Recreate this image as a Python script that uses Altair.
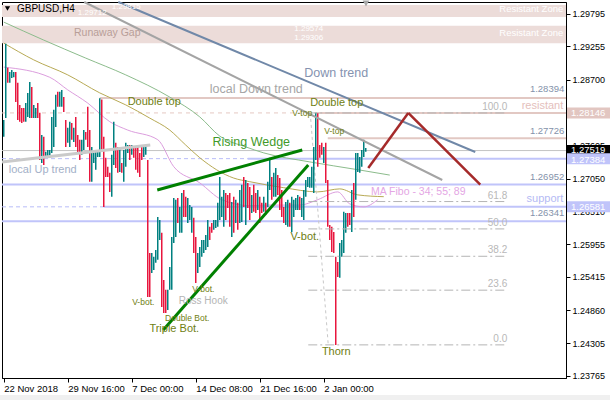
import altair as alt
import pandas as pd

# ---------------------------------------------------------------------------
# GBPUSD H4 bars (index 0 = 22 Nov 2018 00:00, one step = one 4-hour bar)
# ---------------------------------------------------------------------------
HIGH = [
    1.2803, 1.2930, 1.2890, 1.2883, 1.2886, 1.2883, 1.2883, 1.2865, 1.2828, 1.2823,
    1.2823, 1.2831, 1.2848, 1.2866, 1.2858, 1.2828, 1.2823, 1.2831, 1.2815, 1.2778,
    1.2775, 1.2750, 1.2753, 1.2753, 1.2808, 1.2820, 1.2845, 1.2850, 1.2850, 1.2853,
    1.2841, 1.2803, 1.2790, 1.2800, 1.2798, 1.2790, 1.2808, 1.2778, 1.2770, 1.2770,
    1.2786, 1.2783, 1.2825, 1.2786, 1.2758, 1.2748, 1.2753, 1.2750, 1.2839, 1.2837,
    1.2775, 1.2740, 1.2725, 1.2715, 1.2745, 1.2800, 1.2765, 1.2758, 1.2758, 1.2731,
    1.2753, 1.2765, 1.2761, 1.2761, 1.2761, 1.2758, 1.2758, 1.2758, 1.2748, 1.2761,
    1.2761, 1.2761, 1.2736, 1.2581, 1.2581, 1.2575, 1.2586, 1.2641, 1.2636, 1.2615,
    1.2536, 1.2520, 1.2520, 1.2558, 1.2608, 1.2673, 1.2670, 1.2673, 1.2658, 1.2681,
    1.2686, 1.2675, 1.2673, 1.2661, 1.2658, 1.2640, 1.2608, 1.2581, 1.2591, 1.2603,
    1.2603, 1.2611, 1.2636, 1.2625, 1.2631, 1.2636, 1.2636, 1.2665, 1.2708, 1.2675,
    1.2686, 1.2681, 1.2678, 1.2681, 1.2666, 1.2675, 1.2670, 1.2665, 1.2686, 1.2695,
    1.2708, 1.2703, 1.2698, 1.2691, 1.2678, 1.2695, 1.2681, 1.2686, 1.2675, 1.2665,
    1.2675, 1.2665, 1.2700, 1.2740, 1.2708, 1.2715, 1.2723, 1.2711, 1.2706, 1.2686,
    1.2658, 1.2666, 1.2670, 1.2665, 1.2675, 1.2670, 1.2673, 1.2678, 1.2675, 1.2673,
    1.2686, 1.2703, 1.2708, 1.2708, 1.2725, 1.2758, 1.2815, 1.2814, 1.2761, 1.2765,
    1.2758, 1.2765, 1.2703, 1.2628, 1.2625, 1.2616, 1.2575, 1.2566, 1.2598, 1.2603,
    1.2650, 1.2648, 1.2648, 1.2648, 1.2686, 1.2698, 1.2748, 1.2748, 1.2741, 1.2753,
    1.2770, 1.2756,
]
LOW = [
    1.2775, 1.2806, 1.2865, 1.2865, 1.2873, 1.2874, 1.2833, 1.2803, 1.2800, 1.2798,
    1.2800, 1.2800, 1.2808, 1.2806, 1.2806, 1.2806, 1.2806, 1.2806, 1.2736, 1.2731,
    1.2728, 1.2740, 1.2740, 1.2741, 1.2748, 1.2758, 1.2791, 1.2825, 1.2825, 1.2825,
    1.2816, 1.2758, 1.2765, 1.2758, 1.2770, 1.2766, 1.2758, 1.2748, 1.2736, 1.2745,
    1.2753, 1.2770, 1.2758, 1.2700, 1.2700, 1.2731, 1.2720, 1.2741, 1.2741, 1.2753,
    1.2658, 1.2708, 1.2708, 1.2683, 1.2675, 1.2728, 1.2723, 1.2715, 1.2716, 1.2715,
    1.2700, 1.2725, 1.2748, 1.2736, 1.2745, 1.2740, 1.2720, 1.2715, 1.2708, 1.2736,
    1.2741, 1.2745, 1.2508, 1.2508, 1.2548, 1.2553, 1.2565, 1.2570, 1.2603, 1.2491,
    1.2481, 1.2481, 1.2486, 1.2520, 1.2520, 1.2598, 1.2608, 1.2631, 1.2615, 1.2615,
    1.2641, 1.2641, 1.2631, 1.2636, 1.2615, 1.2581, 1.2531, 1.2548, 1.2558, 1.2575,
    1.2581, 1.2586, 1.2591, 1.2603, 1.2615, 1.2620, 1.2623, 1.2625, 1.2636, 1.2641,
    1.2625, 1.2636, 1.2656, 1.2625, 1.2608, 1.2615, 1.2631, 1.2620, 1.2631, 1.2633,
    1.2658, 1.2628, 1.2656, 1.2636, 1.2648, 1.2650, 1.2648, 1.2653, 1.2631, 1.2648,
    1.2650, 1.2645, 1.2658, 1.2686, 1.2670, 1.2675, 1.2675, 1.2678, 1.2653, 1.2641,
    1.2631, 1.2628, 1.2625, 1.2625, 1.2616, 1.2641, 1.2653, 1.2653, 1.2653, 1.2641,
    1.2636, 1.2675, 1.2691, 1.2690, 1.2690, 1.2681, 1.2736, 1.2725, 1.2740, 1.2745,
    1.2731, 1.2698, 1.2625, 1.2603, 1.2583, 1.2581, 1.2428, 1.2541, 1.2540, 1.2575,
    1.2581, 1.2615, 1.2625, 1.2628, 1.2616, 1.2641, 1.2670, 1.2716, 1.2715, 1.2725,
    1.2741, 1.2750,
]
# 1 = bullish bar, 0 = bearish bar
UP = [
    1, 1, 0, 1, 1, 1, 0, 0, 0, 0,
    0, 1, 1, 1, 0, 1, 1, 0, 0, 1,
    0, 1, 1, 1, 1, 1, 1, 0, 1, 1,
    0, 0, 1, 1, 0, 1, 0, 0, 0, 1,
    1, 0, 0, 0, 1, 1, 1, 1, 1, 0,
    0, 0, 0, 0, 1, 1, 0, 0, 1, 0,
    1, 1, 1, 0, 1, 0, 0, 0, 0, 0,
    1, 1, 0, 0, 1, 1, 1, 1, 1, 0,
    0, 0, 1, 1, 1, 1, 1, 0, 1, 1,
    0, 0, 1, 1, 1, 0, 0, 1, 1, 1,
    1, 1, 1, 0, 0, 1, 1, 1, 1, 1,
    1, 0, 0, 0, 1, 0, 1, 0, 1, 1,
    0, 1, 0, 0, 1, 0, 0, 1, 0, 0,
    1, 0, 1, 1, 0, 1, 1, 0, 0, 0,
    0, 1, 1, 0, 1, 1, 1, 1, 0, 1,
    1, 1, 1, 1, 1, 1, 1, 0, 0, 0,
    1, 0, 0, 0, 0, 0, 0, 0, 1, 1,
    1, 1, 0, 0, 1, 0, 1, 1, 1, 1,
    1, 1,
]

# Moving averages "MA Fibo 34; 55; 89" sampled at bar indices
MA89_I = [0, 20, 41, 61, 83, 98, 108, 121, 130, 153, 177, 193]
MA89_P = [1.2966, 1.2936, 1.2906, 1.2878, 1.2841, 1.2808, 1.2776, 1.2758, 1.2748, 1.2733, 1.2720, 1.2711]
MA55_I = [0, 15, 32, 48, 61, 73, 83, 91, 98, 115, 123, 140, 157, 168, 177, 190]
MA55_P = [1.2931, 1.2903, 1.2878, 1.2848, 1.2828, 1.2806, 1.2786, 1.2761, 1.2740, 1.2706,
          1.2700, 1.2690, 1.2683, 1.2688, 1.2678, 1.2675]
MA34_I = [0, 23, 32, 42, 53, 62, 77, 85, 98, 109, 123, 132, 148, 157, 167, 173, 180, 187]
MA34_P = [1.2891, 1.2874, 1.2853, 1.2831, 1.2800, 1.2786, 1.2770, 1.2725, 1.2698, 1.2670,
          1.2660, 1.2661, 1.2661, 1.2670, 1.2683, 1.2663, 1.2658, 1.2670]

# Axis ticks
X_TICKS = [0, 32, 64, 96, 128, 160]
X_LABELS = ["22 Nov 2018", "29 Nov 16:00", "7 Dec 00:00", "14 Dec 08:00", "21 Dec 16:00", "2 Jan 00:00"]
Y_TICKS = [1.29795, 1.29255, 1.28700, 1.27605, 1.27050, 1.26510,
           1.25955, 1.25415, 1.24860, 1.24305, 1.23765]

# Fibonacci retracement (Thorn low -> V-top high)
FIB_LEVELS = [1.24280, 1.25192, 1.25757, 1.26213, 1.26669, 1.28146]
FIB_NAMES = ["0.0", "23.6", "38.2", "50.0", "61.8", "100.0"]

LAST_PRICE = 1.27519
I_MIN, I_MAX = -0.875, 281.125

FONT = "Liberation Sans"
XS = alt.Scale(domain=[I_MIN, I_MAX], nice=False, zero=False, padding=0)
YS = alt.Scale(domain=[1.23728, 1.29995], nice=False, zero=False, padding=0)

x_expr = " : ".join(f"datum.value == {t} ? '{l}'" for t, l in zip(X_TICKS, X_LABELS)) + " : ''"
AX_X = alt.Axis(values=X_TICKS, labelExpr=x_expr, title=None, grid=False, orient="bottom",
                tickSize=4, labelPadding=1, labelAlign="left", labelFlush=False,
                labelFontSize=9.5, labelColor="black", domainColor="black", tickColor="black")
AX_Y = alt.Axis(values=Y_TICKS, format=".5f", title=None, grid=False, orient="right",
                tickSize=4, labelPadding=2, labelFontSize=9, labelColor="black",
                labelFlush=False, labelOverlap=False, domainColor="black", tickColor="black")


def xq(f):
    return alt.X(f"{f}:Q", scale=XS, axis=AX_X)


def yq(f):
    return alt.Y(f"{f}:Q", scale=YS, axis=AX_Y)


def segments(rows, **mark):
    df = pd.DataFrame(rows, columns=["i", "p", "i2", "p2"])
    return alt.Chart(df).mark_rule(**mark).encode(
        x=xq("i"), y=yq("p"), x2="i2:Q", y2="p2:Q")


def labels(rows, **mark):
    df = pd.DataFrame(rows, columns=["i", "p", "t"])
    return alt.Chart(df).mark_text(font=FONT, **mark).encode(
        x=xq("i"), y=yq("p"), text="t:N")


def ma_line(idx, vals, color):
    df = pd.DataFrame({"i": idx, "p": vals})
    return alt.Chart(df).mark_line(color=color, strokeWidth=1, interpolate="monotone").encode(
        x=xq("i"), y=yq("p"))


# --- resistance zones -------------------------------------------------------
zones = alt.Chart(pd.DataFrame({
    "i": [I_MIN, I_MIN], "i2": [I_MAX, I_MAX],
    "p": [1.29945, 1.29600], "p2": [1.29745, 1.29306],
})).mark_rect(color="#ecdcd9").encode(x=xq("i"), x2="i2:Q", y=yq("p"), y2="p2:Q")

# --- horizontal levels ------------------------------------------------------
bid_line = segments([[I_MIN, LAST_PRICE, I_MAX, LAST_PRICE]], color="#c4c4c4", strokeWidth=1)
pink_solid = segments([
    [48, 1.28394, I_MAX, 1.28394],
    [156, 1.28146, I_MAX, 1.28146],
    [162, 1.27726, I_MAX, 1.27726],
], color="#e2c8c3", strokeWidth=2)
pink_dash = segments([[I_MIN, 1.28146, 156, 1.28146]],
                     color="#e6c8c2", strokeWidth=1, strokeDash=[4, 4])
lav_solid = segments([
    [122, 1.27384, I_MAX, 1.27384],
    [I_MIN, 1.26952, I_MAX, 1.26952],
    [50, 1.26581, I_MAX, 1.26581],
    [I_MIN, 1.26341, I_MAX, 1.26341],
], color="#c0c4fa", strokeWidth=2)
lav_dash = segments([
    [I_MIN, 1.27384, 122, 1.27384],
    [I_MIN, 1.26581, 50, 1.26581],
], color="#b8bcf8", strokeWidth=1, strokeDash=[4, 3])

# --- Fibonacci ---------------------------------------------------------------
fib_lines = segments([[152.25, v, 251.75, v] for v in FIB_LEVELS],
                     color="#b4b4b4", strokeWidth=1, strokeDash=[9, 3, 2, 3])
fib_diag = segments([[153.25, 1.28146, 162.25, 1.24280]],
                    color="#c8c8c8", strokeWidth=1, strokeDash=[3, 3])
fib_text = labels([[251.75, v, n] for v, n in zip(FIB_LEVELS, FIB_NAMES)],
                  align="right", baseline="bottom", dy=-1, fontSize=10, color="#b8b8b8")

# --- moving averages ---------------------------------------------------------
mas = [
    ma_line(MA89_I, MA89_P, "#8cbc8c"),
    ma_line(MA55_I, MA55_P, "#b8aa55"),
    ma_line(MA34_I, MA34_P, "#dc9ede"),
]

# --- price bars (thin high-low bars, teal = bullish, crimson = bearish) --------
bars_df = pd.DataFrame({
    "i": list(range(len(HIGH))),
    "high": HIGH,
    "low": LOW,
    "up": UP,
})
bars_up = alt.Chart(bars_df).transform_filter("datum.up == 1").mark_bar(
    width=1.5, fill="#008080", opacity=1).encode(
    x=xq("i"), y=yq("high"), y2="low:Q")
bars_down = alt.Chart(bars_df).transform_filter("datum.up == 0").mark_bar(
    width=1.5, fill="#e8163e", opacity=1).encode(
    x=xq("i"), y=yq("high"), y2="low:Q")

# --- trend lines -------------------------------------------------------------
down_trend = segments([[57.25, 1.29995, 235.75, 1.27495]], color="#7088a8", strokeWidth=2)
local_down = segments([[40.25, 1.29995, 219.25, 1.27028]], color="#a4a4a4", strokeWidth=2)
local_up = segments([[I_MIN, 1.27328, 73.25, 1.27612]], color="#cacaca", strokeWidth=3)
wedge = segments([
    [76.75, 1.26862, 149.25, 1.27528],
    [79.75, 1.24528, 152.25, 1.27278],
], color="#008000", strokeWidth=3)
projection = segments([
    [182.25, 1.27230, 202.25, 1.28146],
    [202.25, 1.28146, 238.25, 1.26952],
], color="#a52a2a", strokeWidth=2.5)

# --- annotations -------------------------------------------------------------
OLIVE = "#6f8012"
pattern_big = labels([
    [75.25, 1.28328, "Double top"],
    [166.5, 1.28312, "Double top"],
    [85.25, 1.24545, "Triple Bot."],
    [166.25, 1.24162, "Thorn"],
    [150.5, 1.26078, "V-bot."],
], fontSize=11, color=OLIVE)
pattern_small = labels([
    [149.25, 1.28137, "V-top"],
    [165.25, 1.27845, "V-top"],
    [69.75, 1.24995, "V-bot."],
    [99.75, 1.25212, "V-bot."],
    [91.75, 1.24728, "Double Bot."],
], fontSize=8.5, color=OLIVE)
ross = labels([[99.75, 1.25012, "Ross Hook"]], fontSize=10, color="#b4b4b4")
wedge_text = labels([[123.75, 1.27662, "Rising Wedge"]], fontSize=12.5, color="#3f9a2a")
trend_text = alt.layer(
    labels([[166.25, 1.28812, "Down trend"]], fontSize=12.5, color="#8593b0"),
    labels([[126.25, 1.28545, "local Down trend"]], fontSize=12.5, color="#a6a6a6"),
    labels([[19.5, 1.27195, "local  Up trend"]], fontSize=11, color="#a3b0c8"),
)
ma_text = labels([[207.25, 1.26828, "MA Fibo - 34; 55; 89"]], fontSize=10.5, color="#e4a6e4")
side_text = alt.layer(
    labels([[279.75, 1.26712, "support"]], fontSize=11, align="right", color="#b4baf4"),
    labels([[279.75, 1.28262, "resistant"]], fontSize=11, align="right", color="#e4c0bc"),
)
zone_text = alt.layer(
    labels([[51.75, 1.29478, "Runaway Gap"]], fontSize=10.5, color="#b89e98"),
    labels([[279.75, 1.29878, "Resistant Zone"], [279.75, 1.29478, "Resistant Zone"]],
           fontSize=9.5, align="right", color="white"),
    labels([[152.5, 1.29553, "1.29574"], [152.5, 1.29403, "1.29306"],
            [44.25, 1.29812, "1.29712"], [61.25, 1.29912, "1.29815"]],
           fontSize=8, color="white"),
)
level_text = labels([
    [280.25, 1.28545, "1.28394"],
    [280.25, 1.27845, "1.27726"],
    [280.25, 1.27078, "1.26952"],
    [280.25, 1.26478, "1.26341"],
], fontSize=9.5, align="right", color="#8492aa")

# --- price boxes on the right scale (drawn over the tick labels) ---------------
box_df = pd.DataFrame({
    "p": [1.28146, LAST_PRICE, 1.27384, 1.26581],
    "t": ["1.28146", "1.27519", "1.27384", "1.26581"],
    "c": ["#e2c6c1", "#000000", "#c0c4fa", "#c0c4fa"],
    "dy": [0, -1, 1, 0],
})
box_layers = []
for k in range(len(box_df)):
    row = box_df.iloc[[k]]
    box_layers.append(alt.Chart(row).mark_rule(strokeWidth=11, strokeCap="butt").encode(
        x=alt.value(565), x2=alt.value(608), y=yq("p"), stroke=alt.value(box_df["c"][k])))
    box_layers.append(alt.Chart(row).mark_text(
        font=FONT, fontSize=9.5, color="white", align="left", dy=int(box_df["dy"][k])).encode(
        x=alt.value(569), y=yq("p"), text="t:N"))

# --- window furniture -----------------------------------------------------------
title_text = alt.Chart(pd.DataFrame({"t": ["GBPUSD,H4"]})).mark_text(
    font=FONT, fontSize=10, color="black", align="left", baseline="middle").encode(
    x=alt.value(15), y=alt.value(7), text="t:N")
title_arrow = alt.Chart(pd.DataFrame({"t": [0]})).mark_point(
    shape="triangle-down", filled=True, size=28, color="black", opacity=1).encode(
    x=alt.value(5.5), y=alt.value(6.5))
shift_marker = alt.Chart(pd.DataFrame({"t": [0]})).mark_point(
    shape="triangle-down", filled=True, size=45, color="#a8a8a8", opacity=1).encode(
    x=alt.value(364), y=alt.value(1.5))
bottom_strip = alt.Chart(pd.DataFrame({"t": [0]})).mark_rect(color="#f0f0f0").encode(
    x=alt.value(-2), x2=alt.value(608), y=alt.value(393), y2=alt.value(398))

chart = alt.layer(
    zones, bid_line, pink_solid, pink_dash, lav_solid, lav_dash,
    *mas,
    fib_diag,
    bars_up, bars_down,
    fib_lines, fib_text,
    down_trend, local_down, local_up, wedge, projection,
    pattern_big, pattern_small, ross, wedge_text, trend_text, ma_text,
    side_text, zone_text, level_text,
    *box_layers, title_text, title_arrow, shift_marker, bottom_strip,
).properties(
    width=564, height=376,
    autosize=alt.AutoSizeParams(type="none"),
    padding={"left": 2, "top": 2, "right": 44, "bottom": 22},
    background="white",
).configure(font=FONT).configure_view(stroke="black", strokeWidth=1)

chart.save("out.html", embed_options={"renderer": "svg", "actions": False})
